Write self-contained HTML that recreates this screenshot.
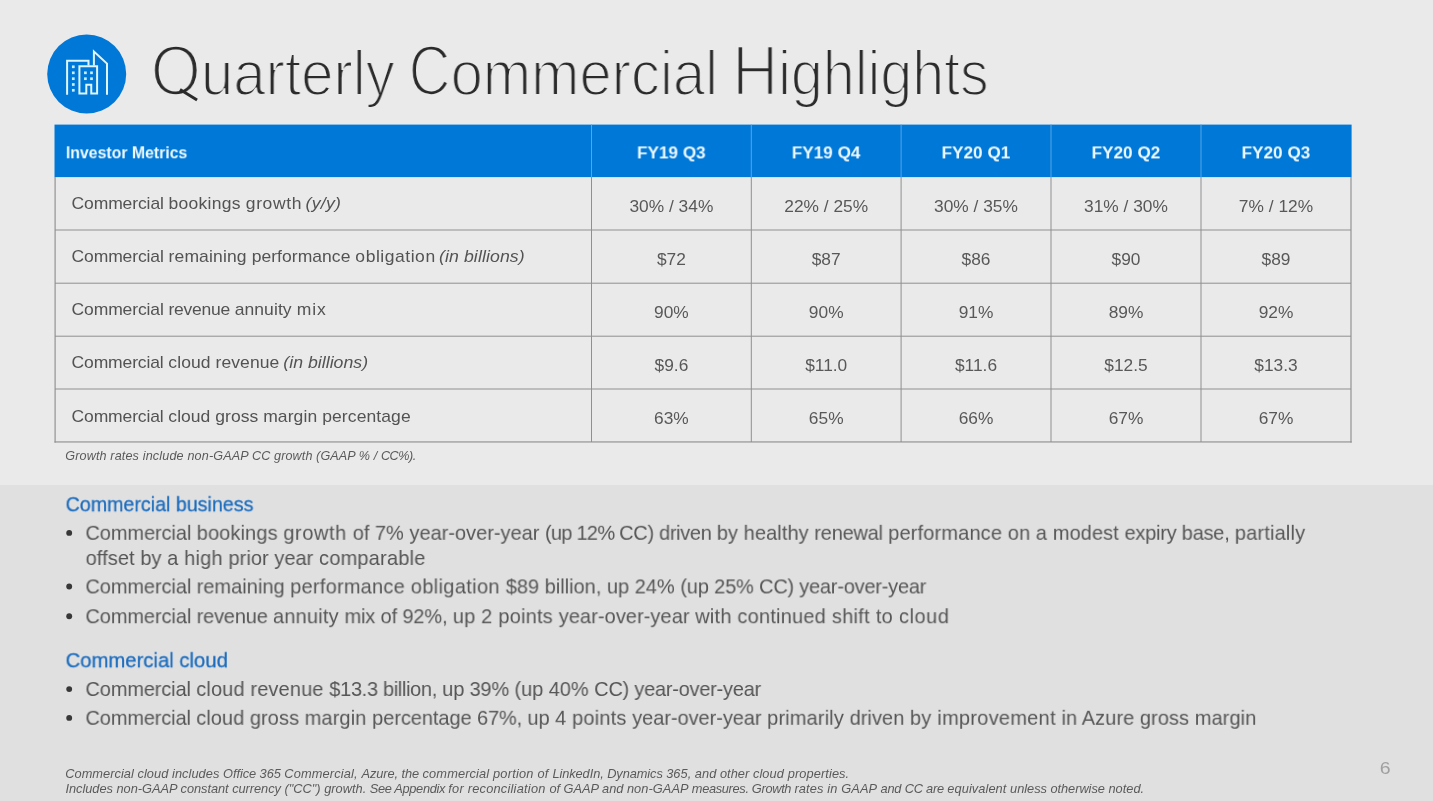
<!DOCTYPE html>
<html><head><meta charset="utf-8"><title>Quarterly Commercial Highlights</title>
<style>
html,body{margin:0;padding:0;}
body{width:1433px;height:801px;overflow:hidden;background:#eaeaea;font-family:"Liberation Sans",sans-serif;}
#s{position:relative;width:1433px;height:801px;overflow:hidden;background:#eaeaea;}
#bot{position:absolute;left:0;top:485px;width:1433px;height:316px;background:#e0e0e0;}
.t{will-change:transform;position:absolute;white-space:pre;line-height:1;transform-origin:0 0;}
.c{will-change:transform;position:absolute;white-space:nowrap;line-height:1;transform-origin:50% 0;text-align:center;width:160px;}
svg{position:absolute;left:0;top:0;}
</style></head><body><div id="s">
<div id="bot"></div>
<svg style="position:absolute;left:46px;top:33px" width="82" height="82" viewBox="0 0 82 82">
<circle cx="40.7" cy="41" r="39.5" fill="#0078d7"/>
<g fill="none" stroke="#dcf5ff" stroke-width="2" stroke-linejoin="miter">
<path d="M21.1 61.8 V27.7 H42.5 V32.6"/>
<path d="M33.4 60.6 V33.2 H51.1 V60.6 H45.25 V51.7 H40.3 V60.6 Z"/>
<path d="M47.9 32.4 V18.6 L61 30.6 V61.8"/>
</g>
<g fill="#c8efff"><rect x="25.95" y="32.45" width="2.7" height="2.7"/><rect x="25.95" y="38.45" width="2.7" height="2.7"/><rect x="25.95" y="44.35" width="2.7" height="2.7"/><rect x="25.95" y="50.15" width="2.7" height="2.7"/><rect x="25.95" y="55.95" width="2.7" height="2.7"/><rect x="38.05" y="38.45" width="2.7" height="2.7"/><rect x="38.05" y="44.35" width="2.7" height="2.7"/><rect x="44.15" y="38.45" width="2.7" height="2.7"/><rect x="44.15" y="44.35" width="2.7" height="2.7"/></g></svg>
<svg width="1433" height="801"><rect x="54.5" y="124.6" width="1297.1" height="52.5" fill="#0078d7"/><rect x="55" y="229.50" width="1296" height="1" fill="#909090"/><rect x="55" y="282.70" width="1296" height="1" fill="#909090"/><rect x="55" y="335.70" width="1296" height="1" fill="#909090"/><rect x="55" y="388.50" width="1296" height="1" fill="#909090"/><rect x="54.5" y="441.37" width="1297.2" height="1.15" fill="#909090"/><rect x="591.00" y="177" width="1" height="265" fill="#909090"/><rect x="591.00" y="124.6" width="1" height="52.5" fill="#55a6e8"/><rect x="750.80" y="177" width="1" height="265" fill="#909090"/><rect x="750.80" y="124.6" width="1" height="52.5" fill="#55a6e8"/><rect x="900.60" y="177" width="1" height="265" fill="#909090"/><rect x="900.60" y="124.6" width="1" height="52.5" fill="#55a6e8"/><rect x="1050.50" y="177" width="1" height="265" fill="#909090"/><rect x="1050.50" y="124.6" width="1" height="52.5" fill="#55a6e8"/><rect x="1200.50" y="177" width="1" height="265" fill="#909090"/><rect x="1200.50" y="124.6" width="1" height="52.5" fill="#55a6e8"/><rect x="54.52" y="177" width="1.15" height="265.6" fill="#909090"/><rect x="1350.42" y="177" width="1.15" height="265.6" fill="#909090"/><circle cx="69.2" cy="532.90" r="2.95" fill="#383838"/><circle cx="69.2" cy="586.50" r="2.95" fill="#383838"/><circle cx="69.2" cy="616.30" r="2.95" fill="#383838"/><circle cx="69.2" cy="689.10" r="2.95" fill="#383838"/><circle cx="69.2" cy="717.90" r="2.95" fill="#383838"/></svg>
<div class="t" id="t0" style="left:150px;top:36px;font-size:70px;color:#2b2b2b;-webkit-text-stroke:2.65px #eaeaea;transform:translate(0.64px,0.00px) scaleX(0.9230)">O<span style="font-size:63px;-webkit-text-stroke-width:2.05px">uarterly</span></div>
<div class="t" id="t1" style="left:408px;top:36px;font-size:70px;color:#2b2b2b;-webkit-text-stroke:2.65px #eaeaea;transform:translate(0.65px,0.00px) scaleX(0.9206)"><span style="display:inline-block;transform:scaleX(.9);transform-origin:0 0;margin-right:-5px">C</span><span style="font-size:63px;-webkit-text-stroke-width:2.05px">ommercial</span></div>
<div class="t" id="t2" style="left:732px;top:36px;font-size:70px;color:#2b2b2b;-webkit-text-stroke:2.65px #eaeaea;transform:translate(0.17px,0.00px) scaleX(0.9105)">H<span style="font-size:63px;-webkit-text-stroke-width:2.05px">ighlights</span></div>
<div class="t" id="t3" style="left:65px;top:144px;font-size:17.2px;color:#eef9ff;font-weight:bold;transform:translate(0.84px,0.30px) scaleX(0.9210)">Investor Metrics</div>
<div class="c" id="t4" style="left:591px;top:144px;font-size:17.2px;color:#eef9ff;font-weight:bold;transform:translate(0.40px,0.40px) scaleX(0.9966)"><span>FY19 Q3</span></div>
<div class="c" id="t5" style="left:746px;top:144px;font-size:17.2px;color:#eef9ff;font-weight:bold;transform:translate(0.20px,0.40px) scaleX(0.9966)"><span>FY19 Q4</span></div>
<div class="c" id="t6" style="left:896px;top:144px;font-size:17.2px;color:#eef9ff;font-weight:bold;transform:translate(0.00px,0.40px) scaleX(0.9966)"><span>FY20 Q1</span></div>
<div class="c" id="t7" style="left:1046px;top:144px;font-size:17.2px;color:#eef9ff;font-weight:bold;transform:translate(0.00px,0.40px) scaleX(0.9966)"><span>FY20 Q2</span></div>
<div class="c" id="t8" style="left:1196px;top:144px;font-size:17.2px;color:#eef9ff;font-weight:bold;transform:translate(0.00px,0.40px) scaleX(0.9966)"><span>FY20 Q3</span></div>
<div class="t" id="t9" style="left:71px;top:195px;font-size:17px;color:#535353;letter-spacing:-0.107px;transform:translate(0.51px,0.40px) scaleX(1.0300)">Commercial </div>
<div class="t" id="t10" style="left:168px;top:195px;font-size:17px;color:#535353;letter-spacing:0.240px;transform:translate(0.57px,0.40px) scaleX(1.0300)">bookings </div>
<div class="t" id="t11" style="left:245px;top:195px;font-size:17px;color:#535353;letter-spacing:0.623px;transform:translate(0.76px,0.40px) scaleX(1.0300)">growth</div>
<div class="t" id="t12" style="left:305px;top:195px;font-size:17px;color:#535353;font-style:italic;letter-spacing:0.268px;transform:translate(0.47px,0.40px) scaleX(1.0400)">(y/y)</div>
<div class="t" id="t13" style="left:71px;top:248px;font-size:17px;color:#535353;letter-spacing:-0.110px;transform:translate(0.51px,0.40px) scaleX(1.0300)">Commercial </div>
<div class="t" id="t14" style="left:168px;top:248px;font-size:17px;color:#535353;letter-spacing:0.134px;transform:translate(0.54px,0.40px) scaleX(1.0300)">remaining </div>
<div class="t" id="t15" style="left:251px;top:248px;font-size:17px;color:#535353;letter-spacing:0.042px;transform:translate(0.67px,0.40px) scaleX(1.0300)">performance </div>
<div class="t" id="t16" style="left:355px;top:248px;font-size:17px;color:#535353;letter-spacing:0.519px;transform:translate(0.36px,0.40px) scaleX(1.0300)">obligation</div>
<div class="t" id="t17" style="left:438px;top:248px;font-size:17px;color:#535353;font-style:italic;letter-spacing:0.095px;transform:translate(0.97px,0.40px) scaleX(1.0400)">(in billions)</div>
<div class="t" id="t18" style="left:71px;top:301px;font-size:17px;color:#535353;letter-spacing:-0.110px;transform:translate(0.51px,0.40px) scaleX(1.0300)">Commercial </div>
<div class="t" id="t19" style="left:168px;top:301px;font-size:17px;color:#535353;letter-spacing:-0.247px;transform:translate(0.54px,0.40px) scaleX(1.0300)">revenue </div>
<div class="t" id="t20" style="left:234px;top:301px;font-size:17px;color:#535353;letter-spacing:0.079px;transform:translate(0.66px,0.40px) scaleX(1.0300)">annuity </div>
<div class="t" id="t21" style="left:296px;top:301px;font-size:17px;color:#535353;letter-spacing:0.973px;transform:translate(0.64px,0.40px) scaleX(1.0300)">mix</div>
<div class="t" id="t22" style="left:71px;top:354px;font-size:17px;color:#535353;letter-spacing:-0.126px;transform:translate(0.51px,0.40px) scaleX(1.0300)">Commercial </div>
<div class="t" id="t23" style="left:168px;top:354px;font-size:17px;color:#535353;letter-spacing:0.073px;transform:translate(0.36px,0.40px) scaleX(1.0300)">cloud revenue</div>
<div class="t" id="t24" style="left:283px;top:354px;font-size:17px;color:#535353;font-style:italic;letter-spacing:0.015px;transform:translate(0.37px,0.40px) scaleX(1.0400)">(in billions)</div>
<div class="t" id="t25" style="left:71px;top:407px;font-size:17px;color:#535353;letter-spacing:-0.126px;transform:translate(0.51px,0.50px) scaleX(1.0300)">Commercial </div>
<div class="t" id="t26" style="left:168px;top:407px;font-size:17px;color:#535353;letter-spacing:0.029px;transform:translate(0.36px,0.50px) scaleX(1.0300)">cloud gross </div>
<div class="t" id="t27" style="left:263px;top:407px;font-size:17px;color:#535353;letter-spacing:0.092px;transform:translate(0.14px,0.50px) scaleX(1.0300)">margin percentage</div>
<div class="c" id="t28" style="left:591px;top:198px;font-size:16.4px;color:#585858;transform:translate(0.40px,0.00px) scaleX(1.0580)"><span>30% / 34%</span></div>
<div class="c" id="t29" style="left:746px;top:198px;font-size:16.4px;color:#585858;transform:translate(0.20px,0.00px) scaleX(1.0580)"><span>22% / 25%</span></div>
<div class="c" id="t30" style="left:896px;top:198px;font-size:16.4px;color:#585858;transform:translate(0.00px,0.00px) scaleX(1.0580)"><span>30% / 35%</span></div>
<div class="c" id="t31" style="left:1046px;top:198px;font-size:16.4px;color:#585858;transform:translate(0.00px,0.00px) scaleX(1.0580)"><span>31% / 30%</span></div>
<div class="c" id="t32" style="left:1196px;top:198px;font-size:16.4px;color:#585858;transform:translate(0.00px,0.00px) scaleX(1.0580)"><span>7% / 12%</span></div>
<div class="c" id="t33" style="left:591px;top:251px;font-size:16.4px;color:#585858;transform:translate(0.40px,0.00px) scaleX(1.0580)"><span>$72</span></div>
<div class="c" id="t34" style="left:746px;top:251px;font-size:16.4px;color:#585858;transform:translate(0.20px,0.00px) scaleX(1.0580)"><span>$87</span></div>
<div class="c" id="t35" style="left:896px;top:251px;font-size:16.4px;color:#585858;transform:translate(0.00px,0.00px) scaleX(1.0580)"><span>$86</span></div>
<div class="c" id="t36" style="left:1046px;top:251px;font-size:16.4px;color:#585858;transform:translate(0.00px,0.00px) scaleX(1.0580)"><span>$90</span></div>
<div class="c" id="t37" style="left:1196px;top:251px;font-size:16.4px;color:#585858;transform:translate(0.00px,0.00px) scaleX(1.0580)"><span>$89</span></div>
<div class="c" id="t38" style="left:591px;top:304px;font-size:16.4px;color:#585858;transform:translate(0.40px,0.00px) scaleX(1.0580)"><span>90%</span></div>
<div class="c" id="t39" style="left:746px;top:304px;font-size:16.4px;color:#585858;transform:translate(0.20px,0.00px) scaleX(1.0580)"><span>90%</span></div>
<div class="c" id="t40" style="left:896px;top:304px;font-size:16.4px;color:#585858;transform:translate(0.00px,0.00px) scaleX(1.0580)"><span>91%</span></div>
<div class="c" id="t41" style="left:1046px;top:304px;font-size:16.4px;color:#585858;transform:translate(0.00px,0.00px) scaleX(1.0580)"><span>89%</span></div>
<div class="c" id="t42" style="left:1196px;top:304px;font-size:16.4px;color:#585858;transform:translate(0.00px,0.00px) scaleX(1.0580)"><span>92%</span></div>
<div class="c" id="t43" style="left:591px;top:357px;font-size:16.4px;color:#585858;transform:translate(0.40px,0.00px) scaleX(1.0580)"><span>$9.6</span></div>
<div class="c" id="t44" style="left:746px;top:357px;font-size:16.4px;color:#585858;transform:translate(0.20px,0.00px) scaleX(1.0580)"><span>$11.0</span></div>
<div class="c" id="t45" style="left:896px;top:357px;font-size:16.4px;color:#585858;transform:translate(0.00px,0.00px) scaleX(1.0580)"><span>$11.6</span></div>
<div class="c" id="t46" style="left:1046px;top:357px;font-size:16.4px;color:#585858;transform:translate(0.00px,0.00px) scaleX(1.0580)"><span>$12.5</span></div>
<div class="c" id="t47" style="left:1196px;top:357px;font-size:16.4px;color:#585858;transform:translate(0.00px,0.00px) scaleX(1.0580)"><span>$13.3</span></div>
<div class="c" id="t48" style="left:591px;top:410px;font-size:16.4px;color:#585858;transform:translate(0.40px,0.00px) scaleX(1.0580)"><span>63%</span></div>
<div class="c" id="t49" style="left:746px;top:410px;font-size:16.4px;color:#585858;transform:translate(0.20px,0.00px) scaleX(1.0580)"><span>65%</span></div>
<div class="c" id="t50" style="left:896px;top:410px;font-size:16.4px;color:#585858;transform:translate(0.00px,0.00px) scaleX(1.0580)"><span>66%</span></div>
<div class="c" id="t51" style="left:1046px;top:410px;font-size:16.4px;color:#585858;transform:translate(0.00px,0.00px) scaleX(1.0580)"><span>67%</span></div>
<div class="c" id="t52" style="left:1196px;top:410px;font-size:16.4px;color:#585858;transform:translate(0.00px,0.00px) scaleX(1.0580)"><span>67%</span></div>
<div class="t" id="t53" style="left:65px;top:450px;font-size:12.6px;color:#5a5a5a;font-style:italic;letter-spacing:0.140px;transform:translate(0.28px,0.00px) scaleX(1.0000)">Growth rates </div>
<div class="t" id="t54" style="left:142px;top:450px;font-size:12.6px;color:#5a5a5a;font-style:italic;letter-spacing:0.162px;transform:translate(0.70px,0.00px) scaleX(1.0000)">include non-GAAP </div>
<div class="t" id="t55" style="left:252px;top:450px;font-size:12.6px;color:#5a5a5a;font-style:italic;letter-spacing:0.100px;transform:translate(0.10px,0.00px) scaleX(1.0000)">CC growth </div>
<div class="t" id="t56" style="left:316px;top:450px;font-size:12.6px;color:#5a5a5a;font-style:italic;letter-spacing:0.087px;transform:translate(0.11px,0.00px) scaleX(1.0000)">(GAAP % / </div>
<div class="t" id="t57" style="left:380px;top:450px;font-size:12.6px;color:#5a5a5a;font-style:italic;letter-spacing:-0.439px;transform:translate(0.90px,0.00px) scaleX(1.0000)">CC%).</div>
<div class="t" id="t58" style="left:65px;top:494px;font-size:20.5px;color:#1b6cbe;-webkit-text-stroke:0.3px #1b6cbe;transform:translate(0.65px,0.20px) scaleX(0.9579)">Commercial business</div>
<div class="t" id="t59" style="left:85px;top:522px;font-size:20.3px;color:#565656;letter-spacing:-0.083px;transform:translate(0.48px,0.80px) scaleX(0.9850)">Commercial </div>
<div class="t" id="t60" style="left:196px;top:522px;font-size:20.3px;color:#565656;letter-spacing:0.127px;transform:translate(0.71px,0.80px) scaleX(0.9850)">bookings </div>
<div class="t" id="t61" style="left:283px;top:522px;font-size:20.3px;color:#565656;letter-spacing:0.563px;transform:translate(0.36px,0.80px) scaleX(0.9850)">growth </div>
<div class="t" id="t62" style="left:352px;top:522px;font-size:20.3px;color:#565656;letter-spacing:0.006px;transform:translate(0.76px,0.80px) scaleX(0.9850)">of 7% year-over-year </div>
<div class="t" id="t63" style="left:544px;top:522px;font-size:20.3px;color:#565656;letter-spacing:-0.729px;transform:translate(0.96px,0.80px) scaleX(0.9850)">(up 12% </div>
<div class="t" id="t64" style="left:619px;top:522px;font-size:20.3px;color:#565656;letter-spacing:-0.314px;transform:translate(0.18px,0.80px) scaleX(0.9850)">CC) driven </div>
<div class="t" id="t65" style="left:716px;top:522px;font-size:20.3px;color:#565656;letter-spacing:0.077px;transform:translate(0.81px,0.80px) scaleX(0.9850)">by healthy </div>
<div class="t" id="t66" style="left:814px;top:522px;font-size:20.3px;color:#565656;letter-spacing:-0.201px;transform:translate(0.27px,0.80px) scaleX(0.9850)">renewal </div>
<div class="t" id="t67" style="left:888px;top:522px;font-size:20.3px;color:#565656;letter-spacing:0.156px;transform:translate(0.21px,0.80px) scaleX(0.9850)">performance </div>
<div class="t" id="t68" style="left:1007px;top:522px;font-size:20.3px;color:#565656;letter-spacing:0.109px;transform:translate(0.76px,0.80px) scaleX(0.9850)">on a modest </div>
<div class="t" id="t69" style="left:1124px;top:522px;font-size:20.3px;color:#565656;letter-spacing:-0.234px;transform:translate(0.55px,0.80px) scaleX(0.9850)">expiry base, </div>
<div class="t" id="t70" style="left:1234px;top:522px;font-size:20.3px;color:#565656;letter-spacing:0.189px;transform:translate(0.81px,0.80px) scaleX(0.9850)">partially</div>
<div class="t" id="t71" style="left:85px;top:548px;font-size:20.3px;color:#565656;letter-spacing:0.079px;transform:translate(0.66px,0.00px) scaleX(0.9850)">offset by </div>
<div class="t" id="t72" style="left:167px;top:548px;font-size:20.3px;color:#565656;letter-spacing:0.198px;transform:translate(0.15px,0.00px) scaleX(0.9850)">a high </div>
<div class="t" id="t73" style="left:228px;top:548px;font-size:20.3px;color:#565656;letter-spacing:0.047px;transform:translate(0.51px,0.00px) scaleX(0.9850)">prior year </div>
<div class="t" id="t74" style="left:318px;top:548px;font-size:20.3px;color:#565656;letter-spacing:0.242px;transform:translate(0.95px,0.00px) scaleX(0.9850)">comparable</div>
<div class="t" id="t75" style="left:85px;top:576px;font-size:20.3px;color:#565656;letter-spacing:-0.086px;transform:translate(0.48px,0.40px) scaleX(0.9850)">Commercial </div>
<div class="t" id="t76" style="left:196px;top:576px;font-size:20.3px;color:#565656;letter-spacing:0.026px;transform:translate(0.67px,0.40px) scaleX(0.9850)">remaining </div>
<div class="t" id="t77" style="left:290px;top:576px;font-size:20.3px;color:#565656;letter-spacing:0.240px;transform:translate(0.21px,0.40px) scaleX(0.9850)">performance </div>
<div class="t" id="t78" style="left:410px;top:576px;font-size:20.3px;color:#565656;letter-spacing:0.364px;transform:translate(0.76px,0.40px) scaleX(0.9850)">obligation </div>
<div class="t" id="t79" style="left:505px;top:576px;font-size:20.3px;color:#565656;letter-spacing:0.004px;transform:translate(0.79px,0.40px) scaleX(0.9850)">$89 billion, </div>
<div class="t" id="t80" style="left:606px;top:576px;font-size:20.3px;color:#565656;letter-spacing:0.022px;transform:translate(0.90px,0.40px) scaleX(0.9850)">up 24% </div>
<div class="t" id="t81" style="left:680px;top:576px;font-size:20.3px;color:#565656;letter-spacing:-0.158px;transform:translate(0.36px,0.40px) scaleX(0.9850)">(up 25% </div>
<div class="t" id="t82" style="left:759px;top:576px;font-size:20.3px;color:#565656;letter-spacing:-0.216px;transform:translate(0.08px,0.40px) scaleX(0.9850)">CC) year-over-year</div>
<div class="t" id="t83" style="left:85px;top:606px;font-size:20.3px;color:#565656;letter-spacing:-0.086px;transform:translate(0.48px,0.20px) scaleX(0.9850)">Commercial </div>
<div class="t" id="t84" style="left:196px;top:606px;font-size:20.3px;color:#565656;letter-spacing:-0.187px;transform:translate(0.67px,0.20px) scaleX(0.9850)">revenue </div>
<div class="t" id="t85" style="left:272px;top:606px;font-size:20.3px;color:#565656;letter-spacing:0.208px;transform:translate(0.95px,0.20px) scaleX(0.9850)">annuity </div>
<div class="t" id="t86" style="left:344px;top:606px;font-size:20.3px;color:#565656;letter-spacing:-0.143px;transform:translate(0.57px,0.20px) scaleX(0.9850)">mix of 92%, </div>
<div class="t" id="t87" style="left:452px;top:606px;font-size:20.3px;color:#565656;letter-spacing:0.224px;transform:translate(0.80px,0.20px) scaleX(0.9850)">up 2 points </div>
<div class="t" id="t88" style="left:558px;top:606px;font-size:20.3px;color:#565656;letter-spacing:0.069px;transform:translate(0.75px,0.20px) scaleX(0.9850)">year-over-year </div>
<div class="t" id="t89" style="left:695px;top:606px;font-size:20.3px;color:#565656;letter-spacing:0.227px;transform:translate(0.23px,0.20px) scaleX(0.9850)">with continued </div>
<div class="t" id="t90" style="left:831px;top:606px;font-size:20.3px;color:#565656;letter-spacing:0.304px;transform:translate(0.84px,0.20px) scaleX(0.9850)">shift to </div>
<div class="t" id="t91" style="left:898px;top:606px;font-size:20.3px;color:#565656;letter-spacing:0.550px;transform:translate(0.95px,0.20px) scaleX(0.9850)">cloud</div>
<div class="t" id="t92" style="left:65px;top:650px;font-size:20.5px;color:#1b6cbe;-webkit-text-stroke:0.3px #1b6cbe;transform:translate(0.62px,0.20px) scaleX(0.9889)">Commercial cloud</div>
<div class="t" id="t93" style="left:85px;top:679px;font-size:20.3px;color:#565656;letter-spacing:-0.125px;transform:translate(0.48px,0.00px) scaleX(0.9850)">Commercial </div>
<div class="t" id="t94" style="left:196px;top:679px;font-size:20.3px;color:#565656;letter-spacing:0.144px;transform:translate(0.25px,0.00px) scaleX(0.9850)">cloud revenue </div>
<div class="t" id="t95" style="left:329px;top:679px;font-size:20.3px;color:#565656;letter-spacing:-0.326px;transform:translate(0.29px,0.00px) scaleX(0.9850)">$13.3 billion, </div>
<div class="t" id="t96" style="left:442px;top:679px;font-size:20.3px;color:#565656;letter-spacing:-0.152px;transform:translate(0.20px,0.00px) scaleX(0.9850)">up 39% </div>
<div class="t" id="t97" style="left:514px;top:679px;font-size:20.3px;color:#565656;letter-spacing:-0.031px;transform:translate(0.46px,0.00px) scaleX(0.9850)">(up 40% </div>
<div class="t" id="t98" style="left:594px;top:679px;font-size:20.3px;color:#565656;letter-spacing:-0.234px;transform:translate(0.18px,0.00px) scaleX(0.9850)">CC) year-over-year</div>
<div class="t" id="t99" style="left:85px;top:707px;font-size:20.3px;color:#565656;letter-spacing:-0.125px;transform:translate(0.48px,0.80px) scaleX(0.9850)">Commercial </div>
<div class="t" id="t100" style="left:196px;top:707px;font-size:20.3px;color:#565656;letter-spacing:0.059px;transform:translate(0.25px,0.80px) scaleX(0.9850)">cloud gross </div>
<div class="t" id="t101" style="left:304px;top:707px;font-size:20.3px;color:#565656;letter-spacing:0.118px;transform:translate(0.67px,0.80px) scaleX(0.9850)">margin </div>
<div class="t" id="t102" style="left:372px;top:707px;font-size:20.3px;color:#565656;letter-spacing:-0.060px;transform:translate(0.11px,0.80px) scaleX(0.9850)">percentage </div>
<div class="t" id="t103" style="left:476px;top:707px;font-size:20.3px;color:#565656;letter-spacing:-0.102px;transform:translate(0.98px,0.80px) scaleX(0.9850)">67%, up </div>
<div class="t" id="t104" style="left:555px;top:707px;font-size:20.3px;color:#565656;letter-spacing:0.190px;transform:translate(0.04px,0.80px) scaleX(0.9850)">4 points </div>
<div class="t" id="t105" style="left:632px;top:707px;font-size:20.3px;color:#565656;letter-spacing:-0.040px;transform:translate(0.25px,0.80px) scaleX(0.9850)">year-over-year </div>
<div class="t" id="t106" style="left:767px;top:707px;font-size:20.3px;color:#565656;letter-spacing:0.154px;transform:translate(0.11px,0.80px) scaleX(0.9850)">primarily </div>
<div class="t" id="t107" style="left:849px;top:707px;font-size:20.3px;color:#565656;letter-spacing:0.042px;transform:translate(0.66px,0.80px) scaleX(0.9850)">driven </div>
<div class="t" id="t108" style="left:909px;top:707px;font-size:20.3px;color:#565656;letter-spacing:0.269px;transform:translate(0.91px,0.80px) scaleX(0.9850)">by improvement </div>
<div class="t" id="t109" style="left:1061px;top:707px;font-size:20.3px;color:#565656;letter-spacing:0.063px;transform:translate(0.56px,0.80px) scaleX(0.9850)">in Azure </div>
<div class="t" id="t110" style="left:1139px;top:707px;font-size:20.3px;color:#565656;letter-spacing:0.089px;transform:translate(0.86px,0.80px) scaleX(0.9850)">gross margin</div>
<div class="t" id="t111" style="left:65px;top:768px;font-size:12.8px;color:#5a5a5a;font-style:italic;letter-spacing:0.042px;transform:translate(0.19px,0.30px) scaleX(1.0000)">Commercial </div>
<div class="t" id="t112" style="left:137px;top:768px;font-size:12.8px;color:#5a5a5a;font-style:italic;letter-spacing:0.058px;transform:translate(0.48px,0.30px) scaleX(1.0000)">cloud includes </div>
<div class="t" id="t113" style="left:223px;top:768px;font-size:12.8px;color:#5a5a5a;font-style:italic;letter-spacing:-0.055px;transform:translate(0.01px,0.30px) scaleX(1.0000)">Office 365 </div>
<div class="t" id="t114" style="left:284px;top:768px;font-size:12.8px;color:#5a5a5a;font-style:italic;letter-spacing:0.147px;transform:translate(0.29px,0.30px) scaleX(1.0000)">Commercial, </div>
<div class="t" id="t115" style="left:361px;top:768px;font-size:12.8px;color:#5a5a5a;font-style:italic;letter-spacing:-0.067px;transform:translate(0.43px,0.30px) scaleX(1.0000)">Azure, the </div>
<div class="t" id="t116" style="left:422px;top:768px;font-size:12.8px;color:#5a5a5a;font-style:italic;letter-spacing:0.132px;transform:translate(0.58px,0.30px) scaleX(1.0000)">commercial </div>
<div class="t" id="t117" style="left:493px;top:768px;font-size:12.8px;color:#5a5a5a;font-style:italic;letter-spacing:0.224px;transform:translate(0.02px,0.30px) scaleX(1.0000)">portion of </div>
<div class="t" id="t118" style="left:552px;top:768px;font-size:12.8px;color:#5a5a5a;font-style:italic;letter-spacing:-0.076px;transform:translate(0.41px,0.30px) scaleX(1.0000)">LinkedIn, Dynamics </div>
<div class="t" id="t119" style="left:666px;top:768px;font-size:12.8px;color:#5a5a5a;font-style:italic;letter-spacing:0.039px;transform:translate(0.20px,0.30px) scaleX(1.0000)">365, and other </div>
<div class="t" id="t120" style="left:752px;top:768px;font-size:12.8px;color:#5a5a5a;font-style:italic;letter-spacing:0.105px;transform:translate(0.88px,0.30px) scaleX(1.0000)">cloud properties.</div>
<div class="t" id="t121" style="left:65px;top:783px;font-size:12.8px;color:#5a5a5a;font-style:italic;letter-spacing:-0.016px;transform:translate(0.39px,0.30px) scaleX(1.0000)">Includes non-GAAP </div>
<div class="t" id="t122" style="left:180px;top:783px;font-size:12.8px;color:#5a5a5a;font-style:italic;letter-spacing:-0.041px;transform:translate(0.58px,0.30px) scaleX(1.0000)">constant currency </div>
<div class="t" id="t123" style="left:284px;top:783px;font-size:12.8px;color:#5a5a5a;font-style:italic;letter-spacing:0.018px;transform:translate(0.40px,0.30px) scaleX(1.0000)">("CC") growth. </div>
<div class="t" id="t124" style="left:369px;top:783px;font-size:12.8px;color:#5a5a5a;font-style:italic;letter-spacing:-0.335px;transform:translate(0.84px,0.30px) scaleX(1.0000)">See Appendix </div>
<div class="t" id="t125" style="left:448px;top:783px;font-size:12.8px;color:#5a5a5a;font-style:italic;letter-spacing:0.230px;transform:translate(0.27px,0.30px) scaleX(1.0000)">for reconciliation </div>
<div class="t" id="t126" style="left:549px;top:783px;font-size:12.8px;color:#5a5a5a;font-style:italic;letter-spacing:-0.023px;transform:translate(0.38px,0.30px) scaleX(1.0000)">of GAAP and </div>
<div class="t" id="t127" style="left:626px;top:783px;font-size:12.8px;color:#5a5a5a;font-style:italic;letter-spacing:0.070px;transform:translate(0.89px,0.30px) scaleX(1.0000)">non-GAAP </div>
<div class="t" id="t128" style="left:691px;top:783px;font-size:12.8px;color:#5a5a5a;font-style:italic;letter-spacing:-0.324px;transform:translate(0.79px,0.30px) scaleX(1.0000)">measures. Growth </div>
<div class="t" id="t129" style="left:794px;top:783px;font-size:12.8px;color:#5a5a5a;font-style:italic;letter-spacing:0.140px;transform:translate(0.39px,0.30px) scaleX(1.0000)">rates in GAAP </div>
<div class="t" id="t130" style="left:880px;top:783px;font-size:12.8px;color:#5a5a5a;font-style:italic;letter-spacing:-0.195px;transform:translate(0.51px,0.30px) scaleX(1.0000)">and CC are </div>
<div class="t" id="t131" style="left:947px;top:783px;font-size:12.8px;color:#5a5a5a;font-style:italic;letter-spacing:0.072px;transform:translate(0.37px,0.30px) scaleX(1.0000)">equivalent </div>
<div class="t" id="t132" style="left:1010px;top:783px;font-size:12.8px;color:#5a5a5a;font-style:italic;letter-spacing:-0.032px;transform:translate(0.06px,0.30px) scaleX(1.0000)">unless otherwise </div>
<div class="t" id="t133" style="left:1108px;top:783px;font-size:12.8px;color:#5a5a5a;font-style:italic;letter-spacing:0.037px;transform:translate(0.39px,0.30px) scaleX(1.0000)">noted.</div>
<div class="t" id="t134" style="left:1379px;top:761px;font-size:16px;color:#a0a0a0;transform:translate(0.81px,0.20px) scaleX(1.2178)">6</div>
<div style="position:absolute;left:180.2px;top:87.8px;width:20.3px;height:3px;background:#2b2b2b;transform-origin:0 50%;transform:rotate(31.5deg)"></div>
</div></body></html>
